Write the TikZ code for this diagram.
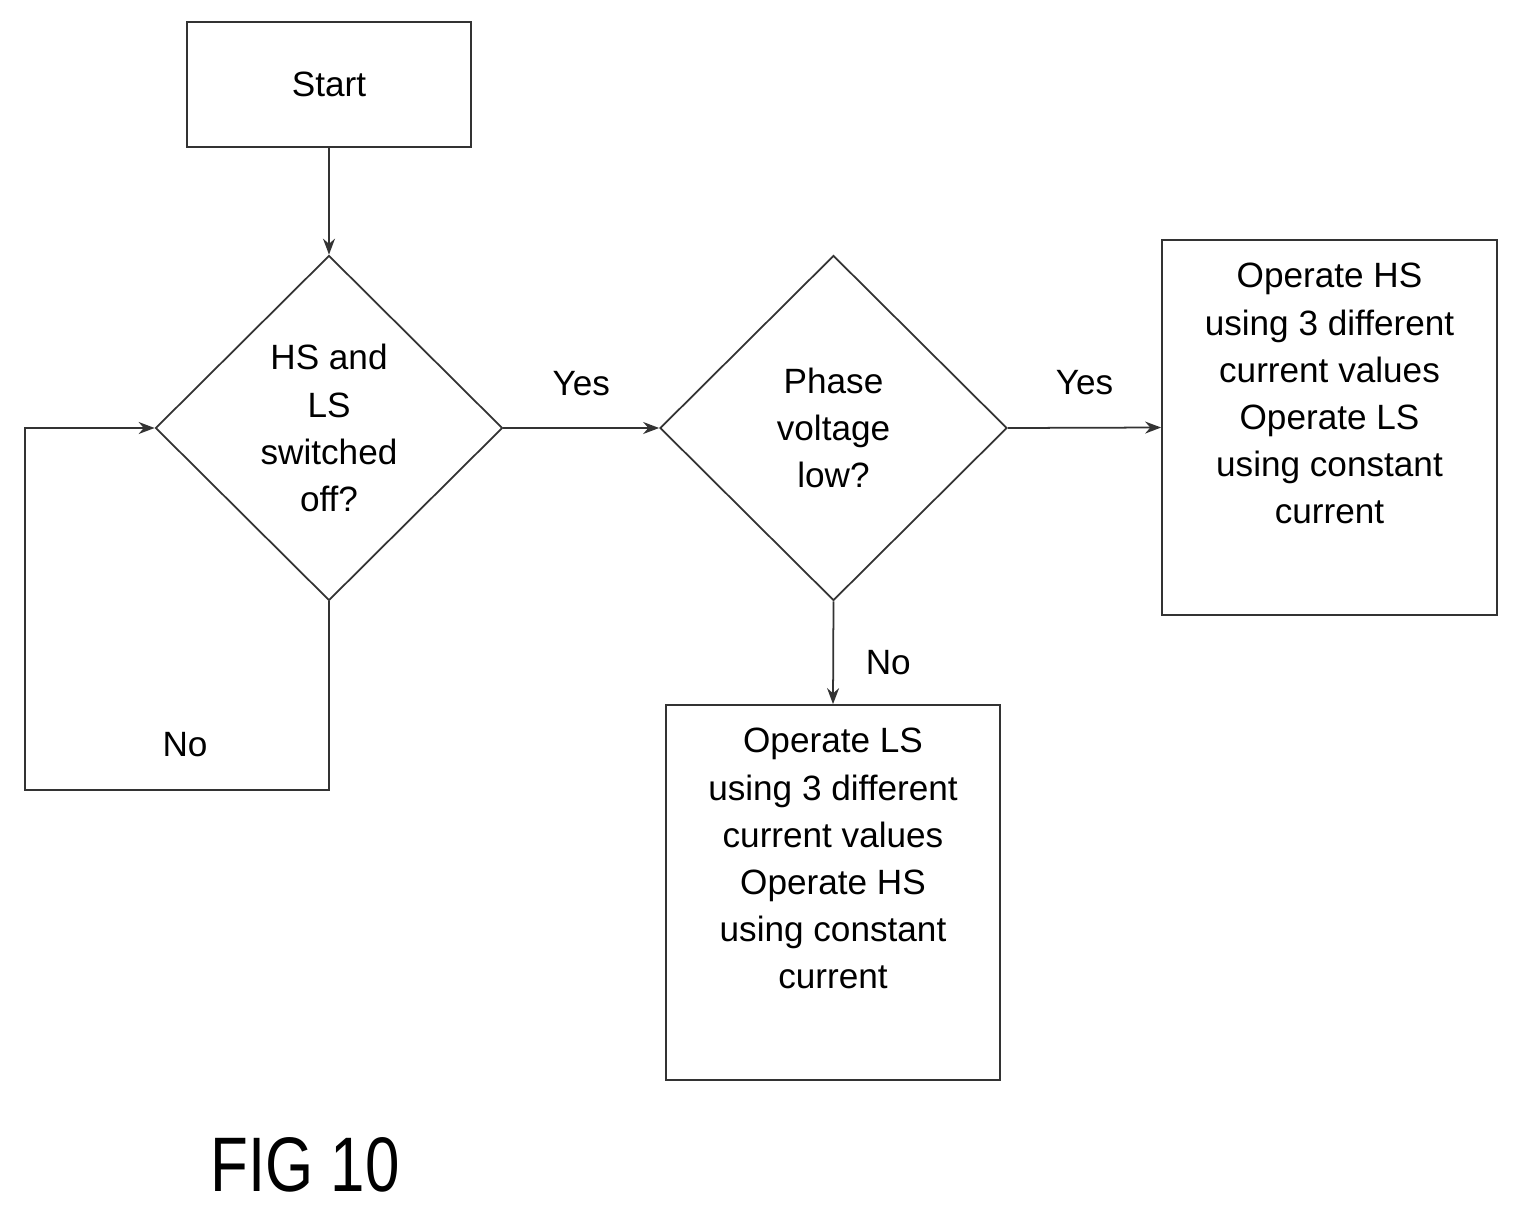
\documentclass[tikz,border=0pt]{standalone}
\usepackage{fontspec}
\setmainfont{Liberation Sans}
\usetikzlibrary{shapes.geometric,arrows.meta}
\tikzset{
  box/.style={draw, align=center, inner sep=0pt, font=\fontsize{10}{13.4}\selectfont},
  dia/.style={draw, diamond, aspect=1, minimum width=3.47cm, minimum height=3.45cm, inner sep=0pt, align=center, font=\fontsize{10}{13.4}\selectfont},
  flow/.style={-{Stealth[length=1.6mm,width=1.2mm]}},
  lbl/.style={font=\fontsize{10}{12}\selectfont}
}
\begin{document}
\begin{tikzpicture}[line width=0.5pt, draw=black!80]
\useasboundingbox (0,0) rectangle (15.21,-12.18);
\node[box, minimum width=2.84cm, minimum height=1.25cm] (start) at (3.29,-0.845) {Start};
\node[dia] (off) at (3.29,-4.28) {HS and\\LS\\switched\\off?};
\node[dia] (low) at (8.335,-4.28) {Phase\\voltage\\low?};
\node[box, minimum width=3.35cm, minimum height=3.75cm] (hs) at (13.295,-4.275) {Operate HS\\using 3 different\\current values\\Operate LS\\using constant\\current\\[0.6em]};
\node[box, minimum width=3.34cm, minimum height=3.75cm] (ls) at (8.33,-8.925) {Operate LS\\using 3 different\\current values\\Operate HS\\using constant\\current\\[0.6em]};
\coordinate (c1) at (3.29,-7.90);
\coordinate (c2) at (0.25,-7.90);
\coordinate (c3) at (0.25,-4.28);
\draw[flow] (start) -- (off.north);
\draw[flow] (off.east) -- node[lbl, above=2mm] {Yes} (low.west);
\draw[flow] (low.east) -- node[lbl, above=2mm] {Yes} (hs.west);
\draw[flow] (low.south) -- node[lbl, right=2mm, pos=0.6] {No} (ls.north);
\draw[flow] (off.south) -- (c1) -- (c2) -- (c3) -- (off.west);
\node[lbl] (no) at (1.85,-7.45) {No};
\node[font=\fontsize{22}{24}\selectfont, xscale=0.8] (fig) at (3.05,-11.65) {FIG 10};
\end{tikzpicture}
\end{document}
